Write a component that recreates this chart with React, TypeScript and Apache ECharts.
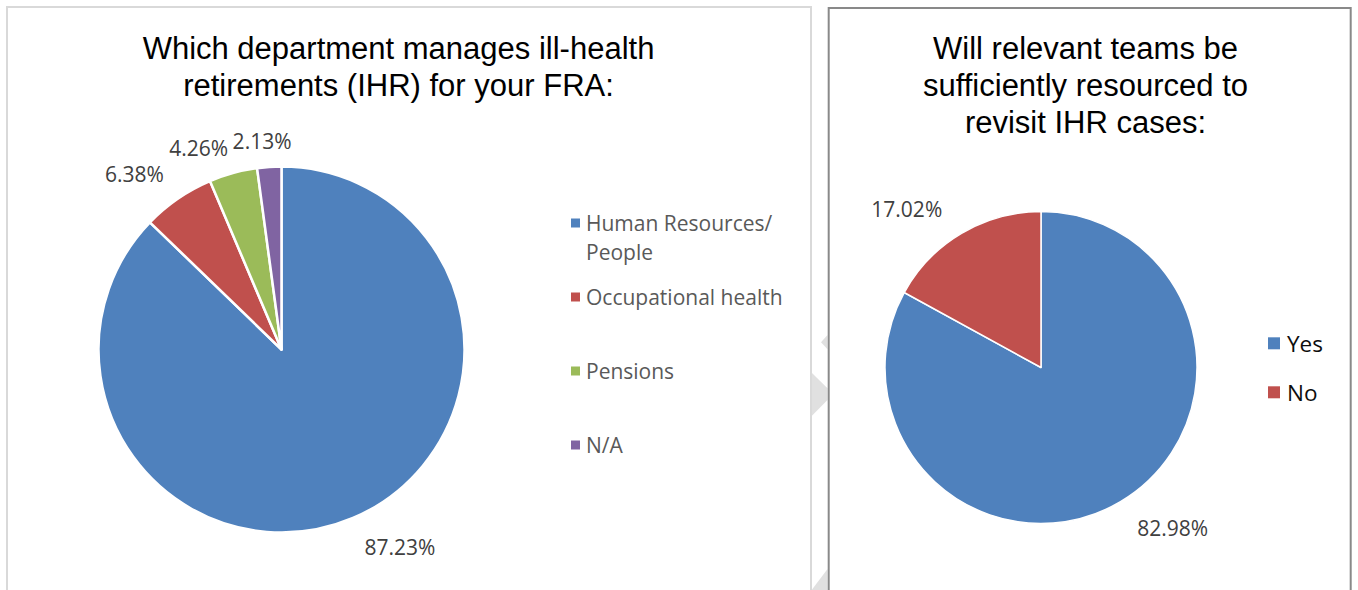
import React, { useEffect, useRef } from "react";
import * as echarts from "echarts";

const leftTitle = "Which department manages ill-health\nretirements (IHR) for your FRA:";
const rightTitle = "Will relevant teams be\nsufficiently resourced to\nrevisit IHR cases:";

const leftCategories = ["Human Resources/ People", "Occupational health", "Pensions", "N/A"];
const leftValues = [87.23, 6.38, 4.26, 2.13];
const leftColors = ["#4f81bd", "#c0504d", "#9bbb59", "#8064a2"];

const rightCategories = ["Yes", "No"];
const rightValues = [82.98, 17.02];
const rightColors = ["#4f81bd", "#c0504d"];

// label placement tweaks (style only): [length, length2]
const leftLabelLines = [
  [32, -6],
  [30, -8],
  [26, -7],
  [26, -29],
];
const rightLabelLines = [
  [31, -4],
  [28, 0],
];

const LABEL_FONT = "'Open Sans', 'Noto Sans', sans-serif";
const TITLE_FONT = "'Liberation Sans', Arial, sans-serif";

export default function App() {
  const ref = useRef<HTMLDivElement>(null);

  useEffect(() => {
    if (!ref.current) return;
    const chart = echarts.init(ref.current, undefined, { renderer: "svg" });

    const pct = (p: any) => Number(p.value).toFixed(2) + "%";

    const leftLegends = leftCategories.map((name, i) => {
      const twoLine = name.indexOf("/ ") >= 0;
      return {
        data: [name],
        orient: "vertical",
        left: 571,
        top: twoLine ? 224.5 + i * 74 - 45 : 224.5 + i * 74 - 16,
        padding: 0,
        itemWidth: 9,
        itemHeight: 9,
        icon: "rect",
        selectedMode: false,
        itemStyle: { borderWidth: 0 },
        // a leading blank line keeps the marker level with the first text line
        formatter: (n: string) => (n.indexOf("/ ") >= 0 ? "\n" + n.replace("/ ", "/\n") : n),
        textStyle: {
          fontFamily: LABEL_FONT,
          fontSize: 21,
          color: "#595959",
          lineHeight: 29,
          padding: [0, 0, 0, 1],
        },
      };
    });

    const rightLegend = {
      data: rightCategories,
      orient: "vertical",
      left: 1268,
      top: 331.3,
      padding: 0,
      itemWidth: 12,
      itemHeight: 12,
      itemGap: 25,
      icon: "rect",
      selectedMode: false,
      itemStyle: { borderWidth: 0 },
      textStyle: {
        fontFamily: LABEL_FONT,
        fontSize: 22.5,
        color: "#0d0d0d",
        lineHeight: 24,
        padding: [0, 0, 0, 2],
      },
    };

    const labelCommon = {
      show: true,
      position: "outside",
      formatter: pct,
      fontFamily: LABEL_FONT,
      fontSize: 21,
      color: "#404040",
    };

    chart.setOption({
      animation: false,
      backgroundColor: "#ffffff",
      legend: [...leftLegends, rightLegend],
      graphic: [
        {
          type: "polygon",
          z: 1,
          shape: { points: [[821, 342.3], [827.5, 335], [827.5, 349.3]] },
          style: { fill: "#e0e0e0" },
          silent: true,
        },
        {
          type: "polygon",
          z: 1,
          shape: { points: [[811.7, 372.7], [827.5, 388.3], [827.5, 400], [811.7, 416]] },
          style: { fill: "#e0e0e0" },
          silent: true,
        },
        {
          type: "polygon",
          z: 1,
          shape: { points: [[811.7, 590], [827.5, 569], [827.5, 590]] },
          style: { fill: "#e0e0e0" },
          silent: true,
        },
        {
          type: "rect",
          z: 2,
          shape: { x: 7, y: 7, width: 804, height: 620 },
          style: { fill: "none", stroke: "#d9d9d9", lineWidth: 2 },
          silent: true,
        },
        {
          type: "rect",
          z: 2,
          shape: { x: 828.7, y: 8, width: 522, height: 620 },
          style: { fill: "none", stroke: "#898989", lineWidth: 2 },
          silent: true,
        },
        {
          type: "text",
          x: 398.5,
          y: 30,
          style: {
            text: leftTitle,
            align: "center",
            verticalAlign: "top",
            fontFamily: TITLE_FONT,
            fontSize: 31,
            lineHeight: 37,
            fill: "#000000",
          },
        },
        {
          type: "text",
          x: 1085.5,
          y: 30,
          style: {
            text: rightTitle,
            align: "center",
            verticalAlign: "top",
            fontFamily: TITLE_FONT,
            fontSize: 31,
            lineHeight: 37,
            fill: "#000000",
          },
        },
      ],
      series: [
        {
          type: "pie",
          center: [281.5, 349.5],
          radius: 183,
          startAngle: 90,
          clockwise: true,
          avoidLabelOverlap: false,
          silent: true,
          itemStyle: { borderColor: "#ffffff", borderWidth: 2.5 },
          label: labelCommon,
          labelLine: { show: false, length: 30, length2: 0 },
          emphasis: { disabled: true },
          data: leftCategories.map((name, i) => ({
            name,
            value: leftValues[i],
            itemStyle: { color: leftColors[i] },
            labelLine: { show: false, length: leftLabelLines[i][0], length2: leftLabelLines[i][1] },
          })),
        },
        {
          type: "pie",
          center: [1041, 367.5],
          radius: 156,
          startAngle: 90,
          clockwise: true,
          avoidLabelOverlap: false,
          silent: true,
          itemStyle: { borderColor: "#ffffff", borderWidth: 1.5 },
          label: labelCommon,
          labelLine: { show: false, length: 28, length2: 0 },
          emphasis: { disabled: true },
          data: rightCategories.map((name, i) => ({
            name,
            value: rightValues[i],
            itemStyle: { color: rightColors[i] },
            labelLine: { show: false, length: rightLabelLines[i][0], length2: rightLabelLines[i][1] },
          })),
        },
      ],
    });

    return () => chart.dispose();
  }, []);

  return (
    <div
      ref={ref}
      style={{ position: "absolute", left: 0, top: 0, width: 1358, height: 590 }}
    />
  );
}
